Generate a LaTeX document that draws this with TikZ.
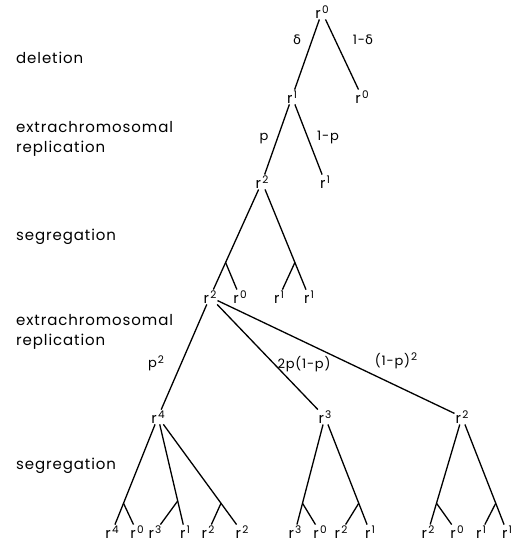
\documentclass[tikz,border=0pt]{standalone}
\usepackage{fontspec}
\setmainfont{Poppins}[LetterSpace=6]
\newfontfamily\gk{DejaVu Sans}
\usetikzlibrary{calc}
\newcommand\rr[1]{r\kern1.2pt\raisebox{0.6ex}{\fontsize{10.5}{10}\selectfont #1}}
\tikzset{
  lab/.style={inner sep=1pt, font=\fontsize{14.5}{14}\selectfont},
  side/.style={anchor=west, align=left, font=\fontsize{15}{20.5}\selectfont, inner sep=0pt},
  el/.style={inner sep=0pt, font=\fontsize{13}{13}\selectfont},
  ln/.style={line width=1.3pt},
}
\begin{document}
\begin{tikzpicture}[x=1pt,y=-1pt]
\useasboundingbox (0,0) rectangle (519,546);
% side labels
\node[side] (s1) at (16,58) {deletion};
\node[side] (s2) at (16,139) {extrachromosomal\\replication};
\node[side] (s3) at (16,237) {segregation};
\node[side] (s4) at (16,332) {extrachromosomal\\replication};
\node[side] (s5) at (16,466) {segregation};
% level nodes
\node[lab] (A) at (322,12) {\rr{0}};
\node[lab] (B) at (292,97) {\rr{1}};
\node[lab] (C) at (362,97) {\rr{0}};
\node[lab] (D) at (262,182) {\rr{2}};
\node[lab] (E) at (325,182) {\rr{1}};
\node[lab] (F) at (210,297) {\rr{2}};
\node[lab] (G) at (240,297) {\rr{0}};
\node[lab] (H) at (279,297) {\rr{1}};
\node[lab] (I) at (309,297) {\rr{1}};
\node[lab] (J) at (158,417) {\rr{4}};
\node[lab] (K) at (325,417) {\rr{3}};
\node[lab] (L) at (462,417) {\rr{2}};
% bottom row
\node[lab] (b1) at (112,532) {\rr{4}};
\node[lab] (b2) at (137,532) {\rr{0}};
\node[lab] (b3) at (155,532) {\rr{3}};
\node[lab] (b4) at (185,532) {\rr{1}};
\node[lab] (b5) at (208,532) {\rr{2}};
\node[lab] (b6) at (242,532) {\rr{2}};
\node[lab] (b7) at (295,532) {\rr{3}};
\node[lab] (b8) at (320,532) {\rr{0}};
\node[lab] (b9) at (341,532) {\rr{2}};
\node[lab] (b10) at (370,532) {\rr{1}};
\node[lab] (b11) at (428,532) {\rr{2}};
\node[lab] (b12) at (457,532) {\rr{0}};
\node[lab] (b13) at (481,532) {\rr{1}};
\node[lab] (b14) at (507,532) {\rr{1}};
% edges
\draw[ln] (A) -- (B);
\draw[ln] (A) -- (C);
\draw[ln] (B) -- (D);
\draw[ln] (B) -- (E);
\draw[ln] (D) -- (F);
\draw[ln] (D) -- (I);
\coordinate (f1) at ($(D)!0.7!(F)$);
\coordinate (f2) at ($(D)!0.7!(I)$);
\draw[ln] (f1) -- (G);
\draw[ln] (f2) -- (H);
\draw[ln] (F) -- (J);
\draw[ln] (F) -- (K);
\draw[ln] (F) -- (L);
% segregation 2
\draw[ln] (J) -- (b1);
\draw[ln] (J) -- (b4);
\draw[ln] (J) -- (b6);
\coordinate (g1) at ($(J)!0.75!(b1)$);
\coordinate (g2) at ($(J)!0.73!(b4)$);
\coordinate (g3) at ($(J)!0.75!(b6)$);
\draw[ln] (g1) -- (b2);
\draw[ln] (g2) -- (b3);
\draw[ln] (g3) -- (b5);
\draw[ln] (K) -- (b7);
\draw[ln] (K) -- (b10);
\coordinate (h1) at ($(K)!0.75!(b7)$);
\coordinate (h2) at ($(K)!0.75!(b10)$);
\draw[ln] (h1) -- (b8);
\draw[ln] (h2) -- (b9);
\draw[ln] (L) -- (b11);
\draw[ln] (L) -- (b14);
\coordinate (k1) at ($(L)!0.75!(b11)$);
\coordinate (k2) at ($(L)!0.75!(b14)$);
\draw[ln] (k1) -- (b12);
\draw[ln] (k2) -- (b13);
% edge labels
\node[el] (e1) at (297,40) {{\gk δ}};
\node[el] (e2) at (363,40) {1-{\gk δ}};
\node[el] (e3) at (264,139) {p};
\node[el] (e4) at (328,137) {1-p};
\node[el] (e5) at (156,363) {p\kern1pt\raisebox{0.6ex}{\fontsize{10.5}{10}\selectfont 2}};
\node[el] (e6) at (304,364) {2p(1-p)};
\node[el] (e7) at (396,361) {(1-p)\kern1pt\raisebox{0.7ex}{\fontsize{10.5}{10}\selectfont 2}};
\end{tikzpicture}
\end{document}
